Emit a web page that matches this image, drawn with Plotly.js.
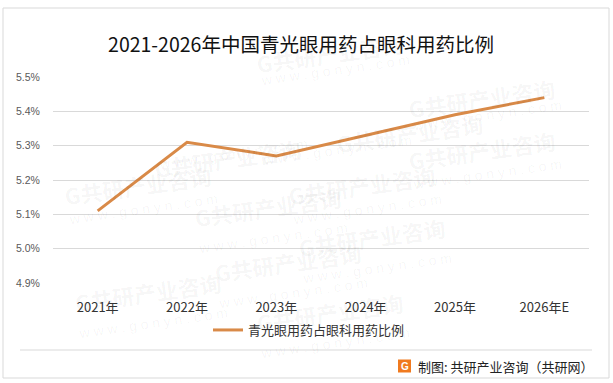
<!DOCTYPE html>
<html>
<head>
<meta charset="utf-8">
<script src="https://cdn.plot.ly/plotly-3.0.1.min.js"></script>
<style>
html,body{margin:0;padding:0;background:#fff;}
#chart{width:613px;height:383px;}
</style>
</head>
<body>
<div id="chart"></div>
<script>
const categories = ["2021年", "2022年", "2023年", "2024年", "2025年", "2026年E"];
const seriesName = "青光眼用药占眼科用药比例";
const ratioValues = [5.11, 5.31, 5.27, 5.33, 5.39, 5.44];
const yTickVals = [4.9, 5.0, 5.1, 5.2, 5.3, 5.4, 5.5];
const yTickText = ["4.9%", "5.0%", "5.1%", "5.2%", "5.3%", "5.4%", "5.5%"];
const titleText = "2021-2026年中国青光眼用药占眼科用药比例";
const sourceText = "制图: 共研产业咨询（共研网）";

const W = 613, H = 383;
const L = 53, R = 24, T = 77, B = 100;
const pw = W - L - R, ph = H - T - B;
const px = x => (x - L) / pw;
const py = y => (H - B - y) / ph;

const font = "'Noto Sans CJK SC', 'Noto Sans', sans-serif";

// faint watermarks
const wm = [
  [150, 130], [410, 105], [560, 70], [330, 25],
  [190, 235], [440, 185], [560, 150], [60, 185],
  [210, 290], [450, 265], [70, 320], [330, 340]
];
const annotations = [];
wm.forEach(([x, y]) => {
  annotations.push({
    xref: "paper", yref: "paper", x: px(x), y: py(y),
    text: "<b>G共研产业咨询</b>", showarrow: false, textangle: -8,
    font: {family: font, size: 22, color: "rgba(0,0,0,0.045)"}
  });
  annotations.push({
    xref: "paper", yref: "paper", x: px(x + 5), y: py(y + 24),
    text: "w w w . g o n y n . c o m", showarrow: false, textangle: -8,
    font: {family: "Liberation Sans, sans-serif", size: 14, color: "rgba(0,0,0,0.045)"}
  });
});
annotations.push({
  xref: "paper", yref: "paper", x: px(416), y: py(366), xanchor: "left", yanchor: "middle",
  text: sourceText, showarrow: false,
  font: {family: font, size: 13, color: "#222"}
});
annotations.push({
  xref: "paper", yref: "paper", x: px(404.5), y: py(366), xanchor: "center", yanchor: "middle",
  text: "<b>G</b>", showarrow: false,
  font: {family: "Liberation Sans, sans-serif", size: 10, color: "#fff"}
});

const shapes = [
  {type: "rect", xref: "paper", yref: "paper", x0: px(3), x1: px(609), y0: py(378), y1: py(8),
   line: {color: "#d9d9d9", width: 1}, fillcolor: "rgba(0,0,0,0)", layer: "below"},
  {type: "line", xref: "paper", yref: "paper", x0: px(20), x1: px(592), y0: py(350), y1: py(350),
   line: {color: "#d9d9d9", width: 1}},
  {type: "rect", xref: "paper", yref: "paper", x0: px(398), x1: px(411), y0: py(372.5), y1: py(359.5),
   line: {width: 0}, fillcolor: "#F07A1F"}
];

const data = [{
  type: "scatter", mode: "lines",
  x: categories, y: ratioValues, name: seriesName,
  line: {color: "#D98A48", width: 3},
  hoverinfo: "skip"
}];

const layout = {
  width: W, height: H,
  margin: {l: L, r: R, t: T, b: B, pad: 0},
  paper_bgcolor: "#fff", plot_bgcolor: "#fff",
  font: {family: font},
  title: {
    text: titleText, xref: "container", yref: "container",
    x: 301 / W, xanchor: "center", y: 1 - 45 / H, yanchor: "middle",
    font: {family: font, size: 19.5, color: "#111"}
  },
  xaxis: {
    type: "category", range: [-0.5, 5.5], showgrid: false, zeroline: false,
    showline: false, ticks: "outside", ticklen: 12, tickcolor: "rgba(0,0,0,0)",
    tickfont: {family: font, size: 13, color: "#333"}, fixedrange: true
  },
  yaxis: {
    range: [4.9, 5.5], tickvals: yTickVals, ticktext: yTickText,
    showgrid: true, gridcolor: "#d9d9d9", gridwidth: 1, zeroline: false,
    showline: false, ticks: "outside", ticklen: 10, tickcolor: "rgba(0,0,0,0)",
    tickfont: {family: "'Liberation Sans', 'DejaVu Sans', sans-serif", size: 10.5, color: "#595959"},
    fixedrange: true
  },
  showlegend: true,
  legend: {
    orientation: "h", xref: "container", yref: "container",
    x: 208 / W, xanchor: "left", y: 1 - 330 / H, yanchor: "middle",
    font: {family: font, size: 13, color: "#333"}, bgcolor: "rgba(0,0,0,0)"
  },
  shapes: shapes,
  annotations: annotations
};

Plotly.newPlot("chart", data, layout, {displayModeBar: false, staticPlot: true});
</script>
</body>
</html>
